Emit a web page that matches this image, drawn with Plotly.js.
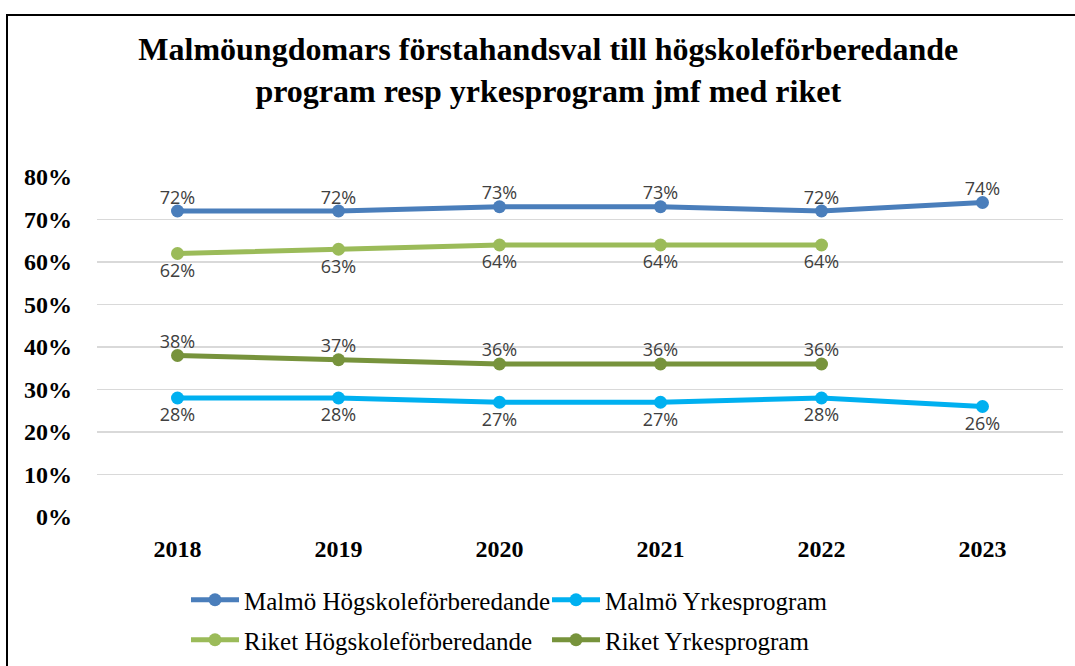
<!DOCTYPE html>
<html>
<head>
<meta charset="utf-8">
<script src="https://cdn.plot.ly/plotly-3.0.1.min.js"></script>
<style>html,body{margin:0;padding:0;background:#fff;}#chart{width:1075px;height:666px;}</style>
</head>
<body>
<div id="chart"></div>
<script>
const years = ['2018', '2019', '2020', '2021', '2022', '2023'];
const malmoHog = [0.72, 0.72, 0.73, 0.73, 0.72, 0.74];
const malmoYrk = [0.28, 0.28, 0.27, 0.27, 0.28, 0.26];
const riketHog = [0.62, 0.63, 0.64, 0.64, 0.64, null];
const riketYrk = [0.38, 0.37, 0.36, 0.36, 0.36, null];
const seriesNames = ['Malmö Högskoleförberedande', 'Malmö Yrkesprogram', 'Riket Högskoleförberedande', 'Riket Yrkesprogram'];
const yTicks = [0, 0.1, 0.2, 0.3, 0.4, 0.5, 0.6, 0.7, 0.8];
const titleText = 'Malmöungdomars förstahandsval till högskoleförberedande<br>program resp yrkesprogram jmf med riket';

const colors = ['#4A7EBB', '#00B0F0', '#9BBB59', '#77933C'];
const labelPos = ['top center', 'bottom center', 'bottom center', 'top center'];
const labelGap = [3, 14, 14, 4];
const legendIds = ['legend', 'legend', 'legend2', 'legend2'];
const allSeries = [malmoHog, malmoYrk, riketHog, riketYrk];

const lineTraces = allSeries.map((vals, i) => ({
  type: 'scatter',
  mode: 'lines+markers',
  x: years,
  y: vals,
  name: seriesNames[i],
  legend: legendIds[i],
  line: {color: colors[i], width: 5},
  marker: {color: colors[i], size: 13},
  hoverinfo: 'skip'
}));
const labelTraces = allSeries.map((vals, i) => ({
  type: 'scatter',
  mode: 'markers+text',
  x: years,
  y: vals,
  showlegend: false,
  marker: {size: labelGap[i], opacity: 0, color: colors[i]},
  texttemplate: '%{y:.0%}',
  textposition: labelPos[i],
  textfont: {family: 'Open Sans, sans-serif', size: 18, color: '#404040'},
  cliponaxis: false,
  hoverinfo: 'skip'
}));

const W = 1075, H = 666;
const mL = 97, mR = 12, mT = 177, mB = 149;
const pw = W - mL - mR, ph = H - mT - mB;
const px = v => (v - mL) / pw;
const py = v => (H - mB - v) / ph;

const legendFont = {family: 'Liberation Serif, serif', size: 25, color: '#000'};
const legendCommon = {
  orientation: 'h', xanchor: 'left', yanchor: 'top',
  entrywidth: 298, entrywidthmode: 'pixels', itemwidth: 48,
  font: legendFont, bgcolor: 'rgba(0,0,0,0)', tracegroupgap: 0
};
const layout = {
  width: W, height: H,
  margin: {l: mL, r: mR, t: mT, b: mB, autoexpand: false},
  paper_bgcolor: '#fff', plot_bgcolor: '#fff',
  showlegend: true,
  title: {
    text: titleText,
    font: {family: 'Liberation Serif, serif', size: 32, color: '#000', weight: 'bold'},
    x: 0.51, xanchor: 'center',
    y: 1 - 60 / H, yanchor: 'top'
  },
  xaxis: {
    type: 'category',
    range: [-0.5, 5.5],
    showgrid: false, zeroline: false, showline: false, ticks: '',
    ticklabelstandoff: 15,
    tickfont: {family: 'Liberation Serif, serif', size: 24, color: '#000', weight: 'bold'},
    fixedrange: true
  },
  yaxis: {
    range: [0, 0.8],
    tickvals: yTicks,
    tickformat: '.0%',
    showgrid: true, gridcolor: '#D9D9D9', gridwidth: 1.5,
    zeroline: false, showline: false, ticks: '',
    ticklabelstandoff: 24,
    tickfont: {family: 'Liberation Serif, serif', size: 24, color: '#000', weight: 'bold'},
    fixedrange: true
  },
  legend: Object.assign({x: px(186), y: py(577)}, legendCommon),
  legend2: Object.assign({x: px(186), y: py(617)}, legendCommon),
  shapes: [
    {type: 'line', xref: 'paper', yref: 'paper', x0: px(7), x1: px(7), y0: py(15), y1: py(670), line: {color: '#000', width: 2}},
    {type: 'line', xref: 'paper', yref: 'paper', x0: px(6), x1: px(1080), y0: py(15), y1: py(15), line: {color: '#000', width: 2}}
  ]
};

Plotly.newPlot('chart', lineTraces.concat(labelTraces), layout, {displayModeBar: false, staticPlot: true});
</script>
</body>
</html>
